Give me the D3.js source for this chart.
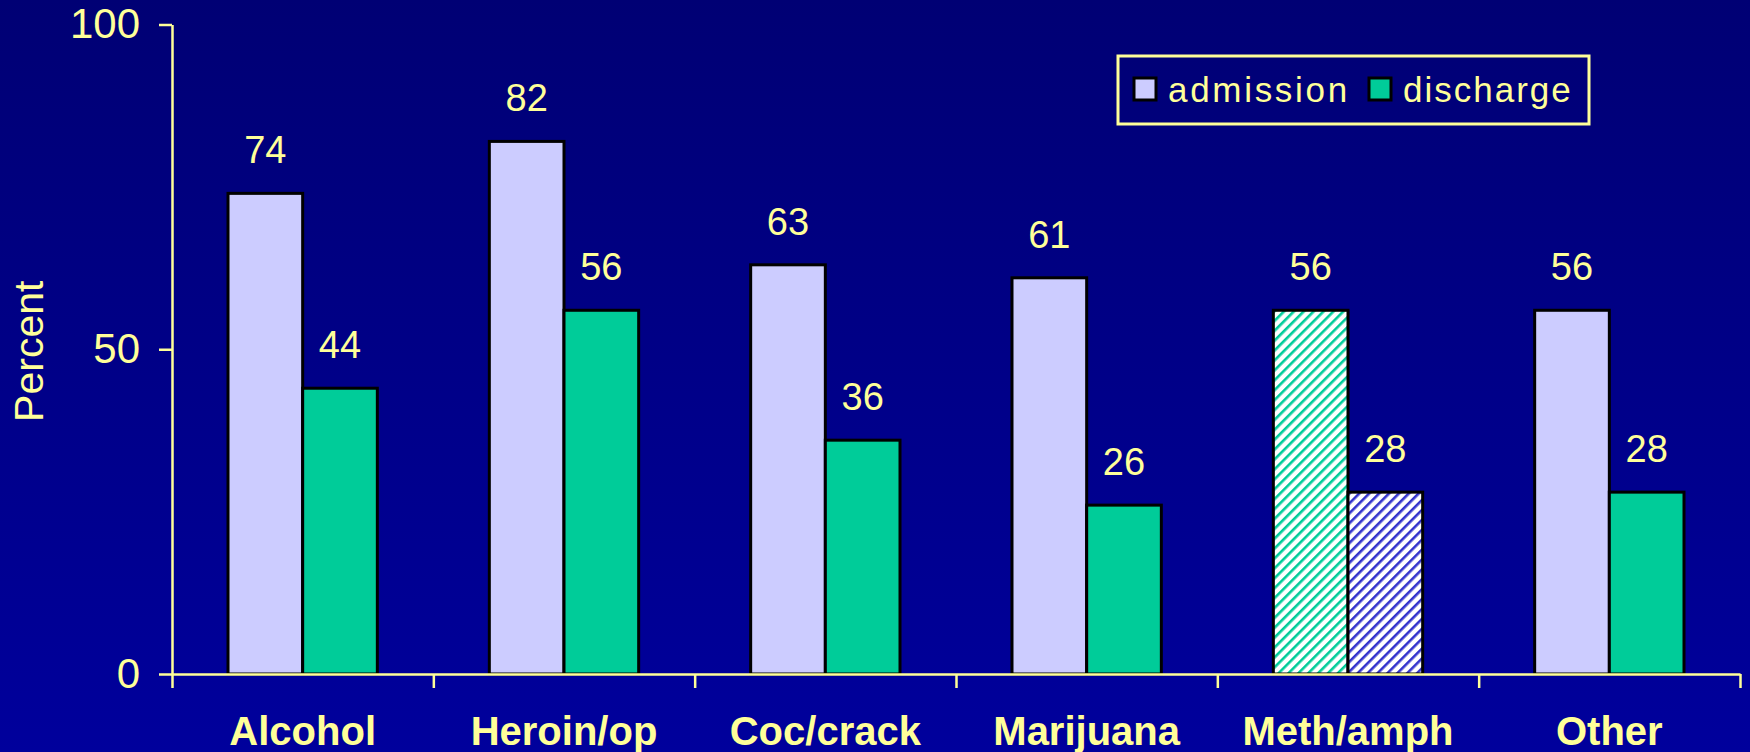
<!DOCTYPE html>
<html lang="en">
<head>
    <meta charset="UTF-8">
    <title>Admission vs discharge</title>
    <script src="https://d3js.org/d3.v7.min.js"></script>
    <style>
        body { margin: 0; background: #000080; }
        svg { display: block; font-family: Arial, "Liberation Sans", sans-serif; }
    </style>
</head>
<body>
    <svg width="1750" height="752"></svg>
    <script>
        const categories = ["Alcohol", "Heroin/op", "Coc/crack", "Marijuana", "Meth/amph", "Other"];
        const admission = [74, 82, 63, 61, 56, 56];
        const discharge = [44, 56, 36, 26, 28, 28];
        const yTicks = [0, 50, 100];
        const hatched = ["Meth/amph"];

        const yellow = "#ffff99";
        const svg = d3.select("svg");
        const width = +svg.attr("width");
        const height = +svg.attr("height");
        const plotLeft = 172, plotRight = 1740, plotTop = 24.5, plotBottom = 674;

        const defs = svg.append("defs");
        const grad = defs.append("linearGradient").attr("id", "bg")
            .attr("x1", 0).attr("y1", 0).attr("x2", 0).attr("y2", 1);
        grad.append("stop").attr("offset", 0).attr("stop-color", "#000074");
        grad.append("stop").attr("offset", 1).attr("stop-color", "#00009c");

        function hatch(id, color) {
            const p = defs.append("pattern").attr("id", id)
                .attr("patternUnits", "userSpaceOnUse")
                .attr("width", 7).attr("height", 7)
                .attr("patternTransform", "rotate(45)");
            p.append("rect").attr("width", 7).attr("height", 7).attr("fill", "#ffffff");
            p.append("rect").attr("x", 0).attr("width", 2.6).attr("height", 7).attr("fill", color);
        }
        hatch("hatchGreen", "#00cc99");
        hatch("hatchBlue", "#3333cc");

        svg.append("rect").attr("width", width).attr("height", height).attr("fill", "url(#bg)");

        const x = d3.scaleBand().domain(categories).range([plotLeft, plotRight]);
        const gap = 56;
        const x1 = d3.scaleBand().domain(["admission", "discharge"])
            .range([gap, x.bandwidth() - gap]);
        const y = d3.scaleLinear().domain([0, 100]).range([plotBottom, plotTop]);

        const rows = categories.map((c, i) => ({ c, admission: admission[i], discharge: discharge[i] }));

        const fillFor = (c, key) => {
            if (hatched.includes(c)) return key === "admission" ? "url(#hatchGreen)" : "url(#hatchBlue)";
            return key === "admission" ? "#ccccff" : "#00cc99";
        };

        const g = svg.selectAll(".group").data(rows).enter().append("g")
            .attr("class", "group")
            .attr("transform", d => `translate(${x(d.c)},0)`);
        const bars = g.selectAll("rect").data(d => ["admission", "discharge"].map(k => ({ c: d.c, k, v: d[k] })))
            .enter();
        bars.append("rect")
            .attr("x", d => x1(d.k))
            .attr("y", d => y(d.v))
            .attr("width", x1.bandwidth())
            .attr("height", d => plotBottom - y(d.v))
            .attr("fill", d => fillFor(d.c, d.k))
            .attr("stroke", "#000")
            .attr("stroke-width", 3);
        bars.append("text")
            .attr("x", d => x1(d.k) + x1.bandwidth() / 2)
            .attr("y", d => y(d.v) - 30)
            .attr("text-anchor", "middle")
            .attr("fill", yellow)
            .attr("font-size", 38)
            .text(d => d.v);

        // axes
        const yAxis = svg.append("g").attr("transform", `translate(${plotLeft},0)`)
            .call(d3.axisLeft(y).tickValues(yTicks).tickSize(13).tickSizeOuter(0).tickPadding(19));
        yAxis.selectAll("text").attr("font-size", 42).attr("fill", yellow);

        const xb = d3.scaleLinear().domain([0, categories.length]).range([plotLeft, plotRight]);
        svg.append("g").attr("transform", `translate(0,${plotBottom})`)
            .call(d3.axisBottom(xb).tickValues(d3.range(categories.length + 1)).tickFormat("").tickSize(14).tickSizeOuter(0));
        svg.selectAll(".domain, .tick line").attr("stroke", yellow).attr("stroke-width", 2.5);

        const labels = svg.append("g").attr("transform", `translate(0,${plotBottom})`)
            .call(d3.axisBottom(x).tickSize(0).tickPadding(0));
        labels.select(".domain").remove();
        labels.selectAll("text")
            .attr("y", 71).attr("dy", 0)
            .attr("font-size", 40).attr("font-weight", "bold").attr("fill", yellow);

        svg.append("text")
            .attr("transform", `translate(43,${(plotTop + plotBottom) / 2 + 2}) rotate(-90)`)
            .attr("text-anchor", "middle")
            .attr("fill", yellow).attr("font-size", 41)
            .text("Percent");

        // legend
        const legend = svg.append("g");
        legend.append("rect").attr("x", 1118).attr("y", 56).attr("width", 471).attr("height", 68)
            .attr("fill", "none").attr("stroke", yellow).attr("stroke-width", 3);
        const items = [
            { k: "admission", sx: 1134, tx: 1168, fill: "#ccccff", ls: 2.7 },
            { k: "discharge", sx: 1369, tx: 1403, fill: "#00cc99", ls: 2 }
        ];
        items.forEach(it => {
            legend.append("rect").attr("x", it.sx).attr("y", 78).attr("width", 22).attr("height", 22)
                .attr("fill", it.fill).attr("stroke", "#000").attr("stroke-width", 3);
            legend.append("text").attr("x", it.tx).attr("y", 102)
                .attr("fill", yellow).attr("font-size", 35).attr("letter-spacing", it.ls)
                .text(it.k);
        });
    </script>
</body>
</html>
